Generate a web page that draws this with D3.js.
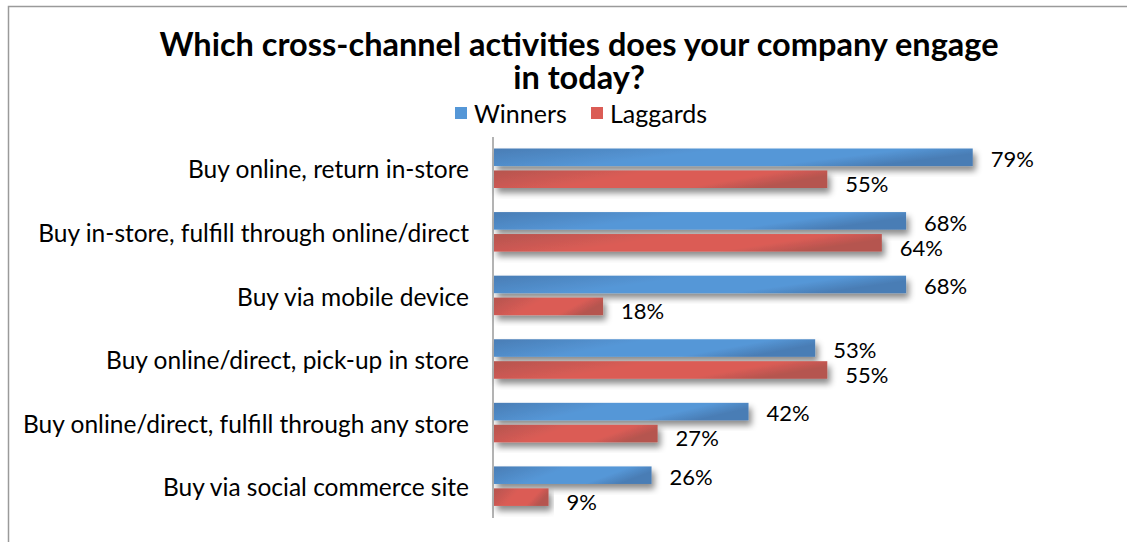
<!DOCTYPE html>
<html>
<head>
<meta charset="utf-8">
<script src="https://cdn.jsdelivr.net/npm/d3@7/dist/d3.min.js"></script>
<style>
  html, body { margin: 0; padding: 0; background: #fff; }
  svg { display: block; }
  text { font-family: Lato, "Open Sans", sans-serif; fill: #000; }
</style>
</head>
<body>
<svg id="chart" width="1127" height="542"></svg>
<script>
// Cross-channel activities, share of companies (%)
const categories = [
  "Buy online, return in-store",
  "Buy in-store, fulfill through online/direct",
  "Buy via mobile device",
  "Buy online/direct, pick-up in store",
  "Buy online/direct, fulfill through any store",
  "Buy via social commerce site"
];
const seriesNames = ["Winners", "Laggards"];
const winners = [79, 68, 68, 53, 42, 26];
const laggards = [55, 64, 18, 55, 27, 9];
const titleLines = ["Which cross-channel activities does your company engage", "in today?"];

const svg = d3.select("#chart");
const W = 1127, H = 542;

const defs = svg.append("defs");
const shadow = defs.append("filter").attr("id", "shadow")
  .attr("x", "-5%").attr("y", "-40%").attr("width", "115%").attr("height", "200%");
shadow.append("feDropShadow")
  .attr("dx", 3).attr("dy", 5).attr("stdDeviation", 3)
  .attr("flood-color", "#000").attr("flood-opacity", 0.45);

const palette = {
  Winners: { edge: "#4a7db5", mid: "#5597d7" },
  Laggards: { edge: "#b5554f", mid: "#db5c55" }
};
seriesNames.forEach(name => {
  const g = defs.append("linearGradient").attr("id", "grad-" + name)
    .attr("x1", 0).attr("y1", 0).attr("x2", 1).attr("y2", 0.3);
  g.append("stop").attr("offset", "0%").attr("stop-color", palette[name].edge);
  g.append("stop").attr("offset", "45%").attr("stop-color", palette[name].mid);
  g.append("stop").attr("offset", "80%").attr("stop-color", palette[name].mid);
  g.append("stop").attr("offset", "100%").attr("stop-color", palette[name].edge);
});

// Outer frame (top and left edges)
svg.append("path")
  .attr("d", `M8.5,${H} L8.5,6.5 L${W},6.5`)
  .attr("fill", "none").attr("stroke", "#9a9a9a").attr("stroke-width", 1.5);

// Title, two lines
svg.append("g").selectAll("text").data(titleLines).join("text")
  .attr("x", 579).attr("y", (d, i) => 56 + i * 33)
  .attr("text-anchor", "middle")
  .attr("font-weight", 700).attr("font-size", 32.5)
  .text(d => d);

// Legend
const legend = svg.append("g");
const legendX = [455, 591];
seriesNames.forEach((name, i) => {
  legend.append("rect").attr("x", legendX[i]).attr("y", 107)
    .attr("width", 12).attr("height", 12).attr("fill", palette[name].mid);
  legend.append("text").attr("x", legendX[i] + 19).attr("y", 123)
    .attr("font-size", 25).text(name);
});

// Scales
const x = d3.scaleLinear().domain([0, 100]).range([493, 1099]);
const y = d3.scaleBand().domain(categories).range([138.5, 520]);
const ySub = d3.scaleBand().domain(seriesNames).range([10, 49.5]).paddingInner(0.2);

// Category axis
const axis = d3.axisLeft(y).tickSize(0).tickPadding(24);
const axisG = svg.append("g").attr("transform", `translate(${x(0)},0)`).call(axis);
axisG.select(".domain").attr("stroke", "#9a9a9a").attr("stroke-width", 1.5)
  .attr("d", `M0,137V518`);
axisG.selectAll(".tick text")
  .attr("font-family", "Lato, 'Open Sans', sans-serif")
  .attr("font-size", 24.5).attr("fill", "#000")
  .attr("dy", "0.32em")
  .attr("transform", (d) => `translate(0,${-y.bandwidth() / 2 + 32})`);

// Bars
const rows = categories.map((c, i) => ({ c, Winners: winners[i], Laggards: laggards[i] }));
const groups = svg.append("g").selectAll("g").data(rows).join("g")
  .attr("transform", d => `translate(0,${y(d.c)})`);

seriesNames.forEach(name => {
  groups.append("rect")
    .attr("x", x(0) + 1)
    .attr("y", ySub(name))
    .attr("width", d => x(d[name]) - x(0))
    .attr("height", ySub.bandwidth())
    .attr("fill", `url(#grad-${name})`)
    .attr("filter", "url(#shadow)");
});

// Value labels
seriesNames.forEach(name => {
  groups.append("text")
    .attr("x", d => x(d[name]) + 19)
    .attr("y", ySub(name) + ySub.bandwidth() / 2 + (name === "Winners" ? 2 : 5))
    .attr("dy", "0.35em")
    .attr("font-size", 22)
    .text(d => d[name] + "%");
});
</script>
</body>
</html>
